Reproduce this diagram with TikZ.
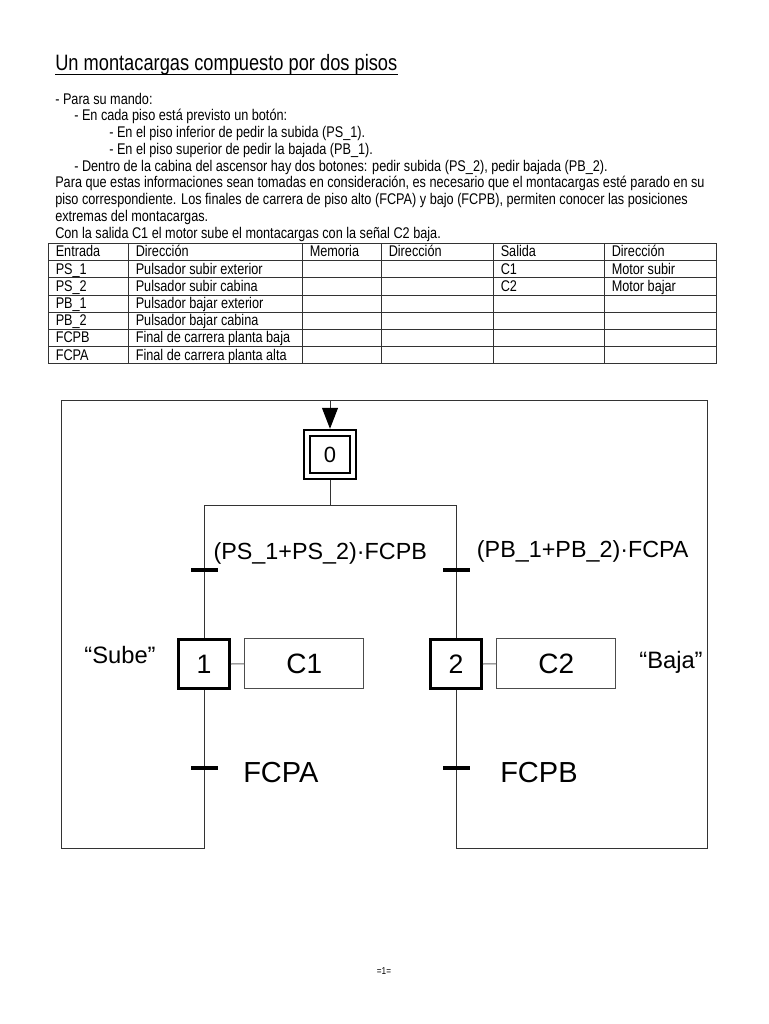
\documentclass[tikz,border=0pt]{standalone}
\usepackage{fontspec}
\setmainfont{Liberation Sans}
\newfontfamily\narrowfont[FakeStretch=0.82]{Liberation Sans}
\usetikzlibrary{arrows.meta}
\begin{document}
\begin{tikzpicture}[x=0.75pt,y=-0.75pt,
 body/.style={font=\narrowfont\fontsize{11.6pt}{12.6pt}\selectfont, inner sep=0, anchor=base west},
 titlestyle/.style={font=\narrowfont\fontsize{16.7pt}{18pt}\selectfont, inner sep=0, anchor=base west},
 tline/.style={line width=0.6pt, draw=black!80},
 wire/.style={line width=0.75pt, draw=black!80},
 stepbox/.style={draw=black, line width=1.9pt, minimum width=38.5pt, minimum height=36.75pt, inner sep=0, font=\fontsize{20pt}{20pt}\selectfont},
 initstep/.style={draw=black, double=white, line width=1.5pt, double distance=3pt, minimum width=35.2pt, minimum height=32.6pt, outer sep=3pt, inner sep=0, font=\fontsize{16.5pt}{16.5pt}\selectfont},
 actbox/.style={draw=black!70, line width=0.75pt, minimum width=89.25pt, minimum height=37.5pt, inner sep=0, font=\fontsize{21pt}{21pt}\selectfont},
 trans/.style={fill=black, minimum width=20.25pt, minimum height=3pt, inner sep=0, outer sep=0},
 cond/.style={font=\fontsize{17.5pt}{17.5pt}\selectfont, inner sep=0, anchor=base west},
 quote/.style={font=\fontsize{17.8pt}{17.8pt}\selectfont, inner sep=0, anchor=base},
 big/.style={font=\fontsize{21.75pt}{21.75pt}\selectfont, inner sep=0, anchor=base west},
]
\useasboundingbox[fill=white] (0,0) rectangle (768,1024);

% ---- title and text
\node[titlestyle] (title) at (55,71) {Un montacargas compuesto por dos pisos};
\draw[line width=0.8pt] ([yshift=-2.6pt]title.base west) -- ([yshift=-2.6pt]title.base east);
\node[body] (l1) at (55,104) {- Para su mando:};
\node[body] (l2) at (74,120.75) {- En cada piso está previsto un botón:};
\node[body] (l3) at (109,137.5) {- En el piso inferior de pedir la subida (PS\_1).};
\node[body] (l4) at (109,154.25) {- En el piso superior de pedir la bajada (PB\_1).};
\node[body] (l5) at (74,171) {- Dentro de la cabina del ascensor hay dos botones: pedir subida (PS\_2), pedir bajada (PB\_2).};
\node[body] (l6) at (55,187.75) {Para que estas informaciones sean tomadas en consideración, es necesario que el montacargas esté parado en su};
\node[body] (l7) at (55,204.5) {piso correspondiente. Los finales de carrera de piso alto (FCPA) y bajo (FCPB), permiten conocer las posiciones};
\node[body] (l8) at (55,221.25) {extremas del montacargas.};
\node[body] (l9) at (55,238) {Con la salida C1 el motor sube el montacargas con la señal C2 baja.};

% ---- table
\foreach \k in {0,...,7} \draw[tline] (48,243.3+17.2*\k) -- (716,243.3+17.2*\k);
\foreach \cx in {48,128,302,381,493,604,716} \draw[tline] (\cx,243.3) -- (\cx,363.7);
\foreach \t [count=\i] in {Entrada,PS\_1,PS\_2,PB\_1,PB\_2,FCPB,FCPA}
  \node[body] (ca\i) at (55.5,256.8+17.2*\i-17.2) {\t};
\foreach \t [count=\i] in {Dirección,Pulsador subir exterior,Pulsador subir cabina,Pulsador bajar exterior,Pulsador bajar cabina,Final de carrera planta baja,Final de carrera planta alta}
  \node[body] (cb\i) at (135.5,256.8+17.2*\i-17.2) {\t};
\node[body] (cc1) at (309.5,256.8) {Memoria};
\node[body] (cd1) at (388.5,256.8) {Dirección};
\node[body] (ce1) at (500.5,256.8) {Salida};
\node[body] (ce2) at (500.5,274) {C1};
\node[body] (ce3) at (500.5,291.2) {C2};
\node[body] (cf1) at (611.5,256.8) {Dirección};
\node[body] (cf2) at (611.5,274) {Motor subir};
\node[body] (cf3) at (611.5,291.2) {Motor bajar};

% ---- grafcet
\coordinate (top) at (330,400);
\coordinate (tl) at (61,400);
\coordinate (tr) at (707,400);
\coordinate (bl) at (61,848);
\coordinate (br) at (707,848);
\coordinate (divL) at (204,505);
\coordinate (divR) at (456,505);

\node[initstep] (s0) at (330,454.5) {0};
\node[stepbox] (s1) at (204,664) {1};
\node[stepbox] (s2) at (456,664) {2};
\node[actbox] (a1) at (304.3,663.8) {C1};
\node[actbox] (a2) at (556.3,663.8) {C2};
\node[trans] (t1) at (204,570) {};
\node[trans] (t2) at (456,570) {};
\node[trans] (t3) at (204,768.3) {};
\node[trans] (t4) at (456,768.3) {};

\node[cond] (c1) at (213.3,559) {(PS\_1+PS\_2)·FCPB};
\node[cond] (c2) at (476.7,557.5) {(PB\_1+PB\_2)·FCPA};
\node[big] (c3) at (243,782.7) {FCPA};
\node[big] (c4) at (500,782.7) {FCPB};
\node[quote] (q1) at (120,663) {“Sube”};
\node[quote] (q2) at (671,668) {“Baja”};

\draw[wire] (s0.south) -- (s0.south |- divL);
\draw[wire] (divL) -- (divR);
\draw[wire] (divL) -- (t1) -- (s1);
\draw[wire] (divR) -- (t2) -- (s2);
\draw[wire] (s1) -- (t3) -- (t3 |- bl) -- (bl) -- (tl) -- (top);
\draw[wire] (s2) -- (t4) -- (t4 |- br) -- (br) -- (tr) -- (top);
\draw[wire, -{Triangle[length=15.75pt,width=12pt,color=black,fill=black]}] (top) -- (s0.north);
\draw[line width=0.75pt, draw=black!60] (s1.east) -- (a1.west);
\draw[line width=0.75pt, draw=black!60] (s2.east) -- (a2.west);

% ---- footer
\node[font=\narrowfont\fontsize{7.5pt}{8pt}\selectfont, inner sep=0] (pg) at (384,971) {=1=};
\end{tikzpicture}
\end{document}
